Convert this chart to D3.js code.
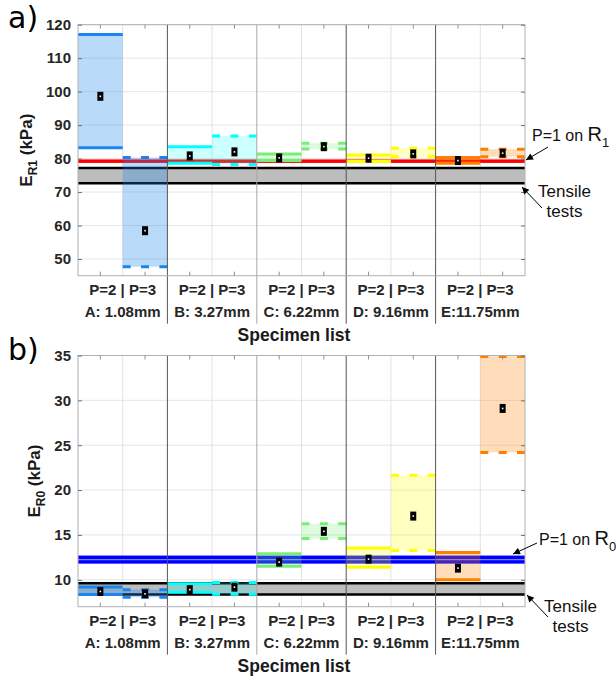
<!DOCTYPE html>
<html><head><meta charset="utf-8">
<script src="https://cdn.jsdelivr.net/npm/d3@7"></script>
<style>
html,body{margin:0;padding:0;background:#fff;}
svg{display:block;font-family:"Liberation Sans",Arial,sans-serif;}
</style></head>
<body>
<svg id="chart" width="616" height="681"></svg>
<script>
// ---------- DATA ----------
const groupLabels = ["A: 1.08mm", "B: 3.27mm", "C: 6.22mm", "D: 9.16mm", "E:11.75mm"];
const subLabel = "P=2 | P=3";
const groupColors = ["#1a85f0", "#00ffff", "#78ee78", "#ffff00", "#ff8000"];
const groupFillAlpha = [0.3, 0.2, 0.25, 0.25, 0.27];

// Panel a) E_R1 (kPa)
const r1P2Mean = [98.6, 80.8, 80.2, 80.1, 79.4];
const r1P2Low  = [83.25, 78.6, 79.4, 79.1, 78.6];
const r1P2High = [117.1, 83.55, 81.4, 81.05, 80.3];
const r1P3Mean = [58.45, 82.0, 83.55, 81.4, 81.6];
const r1P3Low  = [47.7, 78.2, 82.85, 80.55, 80.55];
const r1P3High = [80.3, 86.75, 84.55, 83.05, 82.8];
const r1P1Band = [78.7, 79.75];
const r1Tensile = [72.6, 77.2];
const r1Ticks = [50, 60, 70, 80, 90, 100, 110, 120];
const r1Domain = [45, 120];

// Panel b) E_R0 (kPa)
const r0P2Mean = [8.7, 8.9, 11.97, 12.3, 11.3];
const r0P2Low  = [8.35, 8.6, 11.5, 11.4, 10.0];
const r0P2High = [9.2, 9.55, 12.9, 13.55, 13.05];
const r0P3Mean = [8.44, 9.18, 15.4, 17.1, 29.1];
const r0P3Low  = [8.05, 8.4, 14.6, 13.27, 24.2];
const r0P3High = [8.9, 9.7, 16.25, 21.65, 34.9];
const r0P1Band = [11.8, 12.7];
const r0Tensile = [8.35, 9.6];
const r0Ticks = [10, 15, 20, 25, 30, 35];
const r0Domain = [7, 35];

// ---------- DRAW ----------
const svg = d3.select("#chart");
const defs = svg.append("defs");
defs.append("marker").attr("id", "arr").attr("viewBox", "0 0 10 10")
  .attr("refX", 10).attr("refY", 5).attr("markerWidth", 9).attr("markerHeight", 7)
  .attr("markerUnits", "userSpaceOnUse").attr("orient", "auto")
  .append("path").attr("d", "M0,0 L10,5 L0,10 Z").attr("fill", "#000");

const X0 = 78, X1 = 525;
const subKeys = d3.range(10);
const x = d3.scaleBand().domain(subKeys).range([X0, X1]).padding(0);
const xg = d3.scaleBand().domain(d3.range(5)).range([X0, X1]).padding(0);

function drawPanel(o) {
  const g = svg.append("g");
  const y = d3.scaleLinear().domain(o.domain).range([o.y1, o.y0]);
  const clipId = "clip" + o.id;
  defs.append("clipPath").attr("id", clipId).append("rect")
    .attr("x", X0).attr("y", o.y0).attr("width", X1 - X0).attr("height", o.y1 - o.y0);

  // grid
  g.append("g").selectAll("line").data(o.ticks).join("line")
    .attr("x1", X0).attr("x2", X1).attr("y1", d => y(d)).attr("y2", d => y(d))
    .attr("stroke", "#e6e6e6").attr("stroke-width", 1);
  g.append("g").selectAll("line").data(subKeys.filter(k => k % 2 === 0)).join("line")
    .attr("x1", d => x(d) + x.bandwidth()).attr("x2", d => x(d) + x.bandwidth())
    .attr("y1", o.y0).attr("y2", o.y1).attr("stroke", "#e2e2e2").attr("stroke-width", 1);

  const plot = g.append("g").attr("clip-path", `url(#${clipId})`);
  // tensile band
  plot.append("rect").attr("x", X0).attr("width", X1 - X0)
    .attr("y", y(o.tensile[1])).attr("height", y(o.tensile[0]) - y(o.tensile[1]))
    .attr("fill", "#bdbdbd");
  o.tensile.forEach(v => plot.append("line").attr("x1", X0).attr("x2", X1)
    .attr("y1", y(v)).attr("y2", y(v)).attr("stroke", "#000").attr("stroke-width", 2.5));
  // P=1 band
  if (o.id === "a") {
    plot.append("rect").attr("x", X0).attr("width", X1 - X0)
      .attr("y", y(o.p1[1])).attr("height", y(o.p1[0]) - y(o.p1[1])).attr("fill", "#ff0000");
  } else {
    plot.append("rect").attr("x", X0).attr("width", X1 - X0)
      .attr("y", y(o.p1[1])).attr("height", y(o.p1[0]) - y(o.p1[1])).attr("fill", "#0000ff");
    const mid = (o.p1[0] + o.p1[1]) / 2;
    plot.append("line").attr("x1", X0).attr("x2", X1).attr("y1", y(mid)).attr("y2", y(mid))
      .attr("stroke", "#8080ff").attr("stroke-width", 1.2);
  }
  // group separators inside plot
  g.append("g").selectAll("line").data([1, 2, 3, 4]).join("line")
    .attr("x1", d => xg(d)).attr("x2", d => xg(d)).attr("y1", o.y0).attr("y2", o.y1 + 48)
    .attr("stroke", d => d === 2 ? "#a8a8a8" : "#555").attr("stroke-width", 1);

  // boxes
  const boxes = [];
  for (let i = 0; i < 5; i++) {
    boxes.push({k: 2 * i, i, dashed: false, lo: o.p2Low[i], hi: o.p2High[i], m: o.p2Mean[i]});
    boxes.push({k: 2 * i + 1, i, dashed: true, lo: o.p3Low[i], hi: o.p3High[i], m: o.p3Mean[i]});
  }
  const w = x.bandwidth();
  const dash = 8, gap = (w - 3 * dash) / 2;
  boxes.forEach(b => {
    const bx = x(b.k);
    plot.append("rect").attr("x", bx).attr("width", w)
      .attr("y", y(b.hi)).attr("height", y(b.lo) - y(b.hi))
      .attr("fill", groupColors[b.i]).attr("fill-opacity", groupFillAlpha[b.i]);
    [b.lo, b.hi].forEach(v => plot.append("line").attr("x1", bx).attr("x2", bx + w)
      .attr("y1", y(v)).attr("y2", y(v)).attr("stroke", groupColors[b.i]).attr("stroke-width", 3)
      .attr("stroke-dasharray", b.dashed ? `${dash},${gap}` : null));
  });
  boxes.forEach(b => {
    const cx = x(b.k) + w / 2, cy = y(b.m);
    plot.append("rect").attr("x", cx - 3).attr("y", cy - 4.5).attr("width", 6).attr("height", 9).attr("fill", "#000");
    plot.append("rect").attr("x", cx - 0.8).attr("y", cy - 0.8).attr("width", 1.6).attr("height", 1.6).attr("fill", "#fff");
  });

  // frame
  g.append("rect").attr("x", X0).attr("y", o.y0).attr("width", X1 - X0).attr("height", o.y1 - o.y0)
    .attr("fill", "none").attr("stroke", "#b0b0b0").attr("stroke-width", 1);
  // axes
  const yl = g.append("g").attr("transform", `translate(${X0},0)`)
    .call(d3.axisLeft(y).tickValues(o.ticks).tickSizeInner(-4).tickSizeOuter(0).tickPadding(7));
  yl.select(".domain").remove();
  yl.selectAll(".tick line").attr("stroke", "#707070");
  yl.selectAll("text").attr("font-size", 15).attr("font-weight", "bold").attr("fill", "#262626")
    .attr("font-family", "Liberation Sans, Arial, sans-serif");
  const yr = g.append("g").attr("transform", `translate(${X1},0)`)
    .call(d3.axisRight(y).tickValues(o.ticks).tickSizeInner(-4).tickSizeOuter(0).tickFormat(""));
  yr.select(".domain").remove();
  yr.selectAll(".tick line").attr("stroke", "#707070");
  const centers = subKeys.map(k => x(k) + w / 2);
  g.append("g").selectAll("line").data(centers).join("line")
    .attr("x1", d => d).attr("x2", d => d).attr("y1", o.y0).attr("y2", o.y0 + 4).attr("stroke", "#909090");
  g.append("g").selectAll("line").data(centers).join("line")
    .attr("x1", d => d).attr("x2", d => d).attr("y1", o.y1).attr("y2", o.y1 - 4).attr("stroke", "#909090");

  // x labels
  const lab = g.append("g").attr("font-size", 15).attr("font-weight", "bold").attr("fill", "#262626")
    .attr("text-anchor", "middle");
  groupLabels.forEach((t, i) => {
    const cx = xg(i) + xg.bandwidth() / 2;
    lab.append("text").attr("x", cx).attr("y", o.y1 + 19.5).text(subLabel);
    lab.append("text").attr("x", cx).attr("y", o.y1 + 41).text(t);
  });
  g.append("text").attr("x", 294).attr("y", o.y1 + 65.5).attr("text-anchor", "middle")
    .attr("font-size", 17.5).attr("font-weight", "bold").attr("fill", "#1a1a1a").text("Specimen list");

  // y label
  const yt = g.append("text").attr("transform", `translate(${o.ylx},${(o.y0 + o.y1) / 2}) rotate(-90)`)
    .attr("text-anchor", "middle").attr("font-size", 17).attr("font-weight", "bold").attr("fill", "#1a1a1a");
  yt.append("tspan").text("E");
  yt.append("tspan").attr("font-size", 12).attr("dy", 5).text(o.sub);
  yt.append("tspan").attr("dy", -5).text(" (kPa)");

  // panel letter
  svg.append("text").attr("x", 8).attr("y", o.letterY).attr("font-family", "DejaVu Sans, sans-serif")
    .attr("font-size", 30).attr("fill", "#000").text(o.letter);

  // annotations
  const an = o.ann;
  const t1 = svg.append("text").attr("x", an.p1x).attr("y", an.p1y).attr("font-size", 16).attr("fill", "#111");
  t1.append("tspan").text("P=1 on ");
  t1.append("tspan").attr("font-size", 20).text("R");
  t1.append("tspan").attr("font-size", 13).attr("dy", 6).text(o.sub.slice(1));
  svg.append("line").attr("x1", an.a1[0]).attr("y1", an.a1[1]).attr("x2", an.a1[2]).attr("y2", an.a1[3])
    .attr("stroke", "#000").attr("stroke-width", 1).attr("marker-end", "url(#arr)");
  svg.append("text").attr("x", an.tx).attr("y", an.ty).attr("text-anchor", "middle").attr("font-size", 17).attr("fill", "#111").text("Tensile");
  svg.append("text").attr("x", an.tx).attr("y", an.ty + 20).attr("text-anchor", "middle").attr("font-size", 17).attr("fill", "#111").text("tests");
  svg.append("line").attr("x1", an.a2[0]).attr("y1", an.a2[1]).attr("x2", an.a2[2]).attr("y2", an.a2[3])
    .attr("stroke", "#000").attr("stroke-width", 1).attr("marker-end", "url(#arr)");
}

drawPanel({
  id: "a", y0: 24.7, y1: 275.7, domain: r1Domain, ticks: r1Ticks,
  p2Mean: r1P2Mean, p2Low: r1P2Low, p2High: r1P2High,
  p3Mean: r1P3Mean, p3Low: r1P3Low, p3High: r1P3High,
  p1: r1P1Band, tensile: r1Tensile, sub: "R1", ylx: 32, letter: "a)", letterY: 28,
  ann: {p1x: 532, p1y: 141, a1: [548, 147, 526, 160], tx: 564.5, ty: 197, a2: [542, 208, 522, 187]}
});
drawPanel({
  id: "b", y0: 355.5, y1: 606.7, domain: r0Domain, ticks: r0Ticks,
  p2Mean: r0P2Mean, p2Low: r0P2Low, p2High: r0P2High,
  p3Mean: r0P3Mean, p3Low: r0P3Low, p3High: r0P3High,
  p1: r0P1Band, tensile: r0Tensile, sub: "R0", ylx: 40, letter: "b)", letterY: 360,
  ann: {p1x: 539, p1y: 545, a1: [537, 543, 513, 554], tx: 570.5, ty: 612, a2: [548, 617, 527, 595]}
});
</script>
</body></html>
